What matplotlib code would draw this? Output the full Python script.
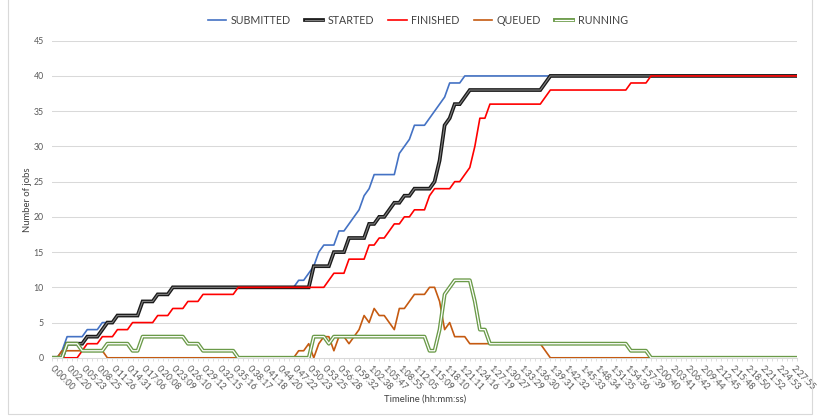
import matplotlib
matplotlib.use("Agg")
import matplotlib.pyplot as plt
from matplotlib.lines import Line2D
from matplotlib.patches import Rectangle
import numpy as np

plt.rcParams['font.family'] = ['Lato', 'DejaVu Sans']

TIME_LABELS = ["0:00:00", "0:02:20", "0:05:23", "0:08:25", "0:11:26", "0:14:31", "0:17:06",
               "0:20:08", "0:23:09", "0:26:10", "0:29:12", "0:32:15", "0:35:16", "0:38:17",
               "0:41:18", "0:44:20", "0:47:22", "0:50:23", "0:53:25", "0:56:28", "0:59:32",
               "1:02:38", "1:05:47", "1:08:55", "1:12:05", "1:15:09", "1:18:10", "1:21:11",
               "1:24:16", "1:27:19", "1:30:27", "1:33:29", "1:36:30", "1:39:31", "1:42:32",
               "1:45:33", "1:48:34", "1:51:35", "1:54:36", "1:57:39", "2:00:40", "2:03:41",
               "2:06:42", "2:09:44", "2:12:45", "2:15:48", "2:18:50", "2:21:52", "2:24:53",
               "2:27:55"]

SUBMITTED = [
    0, 0, 1, 3, 3, 3, 3, 4, 4, 4,
    5, 5, 5, 6, 6, 6, 6, 6, 8, 8,
    8, 9, 9, 9, 10, 10, 10, 10, 10, 10,
    10, 10, 10, 10, 10, 10, 10, 10, 10, 10,
    10, 10, 10, 10, 10, 10, 10, 10, 10, 11,
    11, 12, 13, 15, 16, 16, 16, 18, 18, 19,
    20, 21, 23, 24, 26, 26, 26, 26, 26, 29,
    30, 31, 33, 33, 33, 34, 35, 36, 37, 39,
    39, 39, 40, 40, 40, 40, 40, 40, 40, 40,
    40, 40, 40, 40, 40, 40, 40, 40, 40, 40,
    40, 40, 40, 40, 40, 40, 40, 40, 40, 40,
    40, 40, 40, 40, 40, 40, 40, 40, 40, 40,
    40, 40, 40, 40, 40, 40, 40, 40, 40, 40,
    40, 40, 40, 40, 40, 40, 40, 40, 40, 40,
    40, 40, 40, 40, 40, 40, 40, 40, 40]

STARTED = [
    0, 0, 0, 2, 2, 2, 2, 3, 3, 3,
    4, 5, 5, 6, 6, 6, 6, 6, 8, 8,
    8, 9, 9, 9, 10, 10, 10, 10, 10, 10,
    10, 10, 10, 10, 10, 10, 10, 10, 10, 10,
    10, 10, 10, 10, 10, 10, 10, 10, 10, 10,
    10, 10, 13, 13, 13, 13, 15, 15, 15, 17,
    17, 17, 17, 19, 19, 20, 20, 21, 22, 22,
    23, 23, 24, 24, 24, 24, 25, 28, 33, 34,
    36, 36, 37, 38, 38, 38, 38, 38, 38, 38,
    38, 38, 38, 38, 38, 38, 38, 38, 39, 40,
    40, 40, 40, 40, 40, 40, 40, 40, 40, 40,
    40, 40, 40, 40, 40, 40, 40, 40, 40, 40,
    40, 40, 40, 40, 40, 40, 40, 40, 40, 40,
    40, 40, 40, 40, 40, 40, 40, 40, 40, 40,
    40, 40, 40, 40, 40, 40, 40, 40, 40]

FINISHED = [
    0, 0, 0, 0, 0, 0, 1, 2, 2, 2,
    3, 3, 3, 4, 4, 4, 5, 5, 5, 5,
    5, 6, 6, 6, 7, 7, 7, 8, 8, 8,
    9, 9, 9, 9, 9, 9, 9, 10, 10, 10,
    10, 10, 10, 10, 10, 10, 10, 10, 10, 10,
    10, 10, 10, 10, 10, 11, 12, 12, 12, 14,
    14, 14, 14, 16, 16, 17, 17, 18, 19, 19,
    20, 20, 21, 21, 21, 23, 24, 24, 24, 24,
    25, 25, 26, 27, 30, 34, 34, 36, 36, 36,
    36, 36, 36, 36, 36, 36, 36, 36, 37, 38,
    38, 38, 38, 38, 38, 38, 38, 38, 38, 38,
    38, 38, 38, 38, 38, 39, 39, 39, 39, 40,
    40, 40, 40, 40, 40, 40, 40, 40, 40, 40,
    40, 40, 40, 40, 40, 40, 40, 40, 40, 40,
    40, 40, 40, 40, 40, 40, 40, 40, 40]

QUEUED = [
    0, 0, 1, 1, 1, 1, 1, 1, 1, 1,
    1, 0, 0, 0, 0, 0, 0, 0, 0, 0,
    0, 0, 0, 0, 0, 0, 0, 0, 0, 0,
    0, 0, 0, 0, 0, 0, 0, 0, 0, 0,
    0, 0, 0, 0, 0, 0, 0, 0, 0, 1,
    1, 2, 0, 2, 3, 3, 1, 3, 3, 2,
    3, 4, 6, 5, 7, 6, 6, 5, 4, 7,
    7, 8, 9, 9, 9, 10, 10, 8, 4, 5,
    3, 3, 3, 2, 2, 2, 2, 2, 2, 2,
    2, 2, 2, 2, 2, 2, 2, 2, 1, 0,
    0, 0, 0, 0, 0, 0, 0, 0, 0, 0,
    0, 0, 0, 0, 0, 0, 0, 0, 0, 0,
    0, 0, 0, 0, 0, 0, 0, 0, 0, 0,
    0, 0, 0, 0, 0, 0, 0, 0, 0, 0,
    0, 0, 0, 0, 0, 0, 0, 0, 0]

RUNNING = [
    0, 0, 0, 2, 2, 2, 1, 1, 1, 1,
    1, 2, 2, 2, 2, 2, 1, 1, 3, 3,
    3, 3, 3, 3, 3, 3, 3, 2, 2, 2,
    1, 1, 1, 1, 1, 1, 1, 0, 0, 0,
    0, 0, 0, 0, 0, 0, 0, 0, 0, 0,
    0, 0, 3, 3, 3, 2, 3, 3, 3, 3,
    3, 3, 3, 3, 3, 3, 3, 3, 3, 3,
    3, 3, 3, 3, 3, 1, 1, 4, 9, 10,
    11, 11, 11, 11, 8, 4, 4, 2, 2, 2,
    2, 2, 2, 2, 2, 2, 2, 2, 2, 2,
    2, 2, 2, 2, 2, 2, 2, 2, 2, 2,
    2, 2, 2, 2, 2, 1, 1, 1, 1, 0,
    0, 0, 0, 0, 0, 0, 0, 0, 0, 0,
    0, 0, 0, 0, 0, 0, 0, 0, 0, 0,
    0, 0, 0, 0, 0, 0, 0, 0, 0]

N = len(SUBMITTED)
x = np.arange(N)

W, H = 822, 417
fig = plt.figure(figsize=(W / 100, H / 100), dpi=100)
fig.patches.append(Rectangle((8 / W, 3 / H), (812 - 8) / W, 1.0, transform=fig.transFigure,
                             fill=False, ec='#D9D9D9', lw=0.8))

y0, y45 = 357.8, 40.7
ax = fig.add_axes([52 / W, (H - y0) / H, (797 - 52) / W, (y0 - y45) / H])
ax.set_xlim(0, N - 1)
ax.set_ylim(0, 45)

for s in ['top', 'right', 'left']:
    ax.spines[s].set_visible(False)
ax.spines['bottom'].set_color('#D9D9D9')
ax.spines['bottom'].set_linewidth(0.75)

ax.set_yticks(range(0, 46, 5))
ax.yaxis.grid(True, color='#D9D9D9', lw=0.75)
ax.set_axisbelow(True)
ax.tick_params(axis='y', length=0, pad=6, labelsize=6.3, labelcolor='#595959')

ax.set_xticks(range(0, N, 3))
ax.set_xticks(range(0, N), minor=True)
ax.set_xticklabels(TIME_LABELS)
ax.tick_params(axis='x', which='both', length=2.5, color='#D9D9D9', width=0.6,
               labelsize=6.5, labelcolor='#595959', pad=4)
for lbl in ax.get_xticklabels():
    lbl.set_rotation(-45)
    lbl.set_ha('left')
    lbl.set_va('center')
    lbl.set_rotation_mode('anchor')

blue = '#4472C4'
red = '#FF0000'
orange = '#C55A11'
green_out = '#6A9A48'

ax.plot(x, SUBMITTED, color=blue, lw=1.2, zorder=3)
ax.plot(x, STARTED, color='#1a1a1a', lw=2.7, zorder=4, solid_joinstyle='miter')
ax.plot(x, STARTED, color='#808080', lw=0.8, zorder=4.1)
ax.plot(x, FINISHED, color=red, lw=1.2, zorder=5)
ax.plot(x, QUEUED, color=orange, lw=1.2, zorder=6)
ax.plot(x, RUNNING, color=green_out, lw=2.8, zorder=7)
ax.plot(x, RUNNING, color='white', lw=0.9, zorder=7.1)

h_sub = Line2D([], [], color=blue, lw=1.2)
h_sta = (Line2D([], [], color='#1a1a1a', lw=2.7), Line2D([], [], color='#808080', lw=0.8))
h_fin = Line2D([], [], color=red, lw=1.2)
h_que = Line2D([], [], color=orange, lw=1.2)
h_run = (Line2D([], [], color=green_out, lw=2.8), Line2D([], [], color='white', lw=0.9))
fig.legend([h_sub, h_sta, h_fin, h_que, h_run],
           ['SUBMITTED', 'STARTED', 'FINISHED', 'QUEUED', 'RUNNING'],
           loc='center', bbox_to_anchor=(418 / W, 1 - 20 / H), ncol=5, frameon=False,
           fontsize=7.7, handlelength=1.7, handletextpad=0.45, columnspacing=1.3,
           labelcolor='#404040')

fig.text(27 / W, 1 - 200 / H, 'Number of jobs', rotation=90, ha='center', va='center',
         fontsize=6.8, color='#404040')
fig.text(425 / W, 1 - 399 / H, 'Timeline (hh:mm:ss)', ha='center', va='center',
         fontsize=6.8, color='#404040')

fig.savefig('out.png', dpi=100)
